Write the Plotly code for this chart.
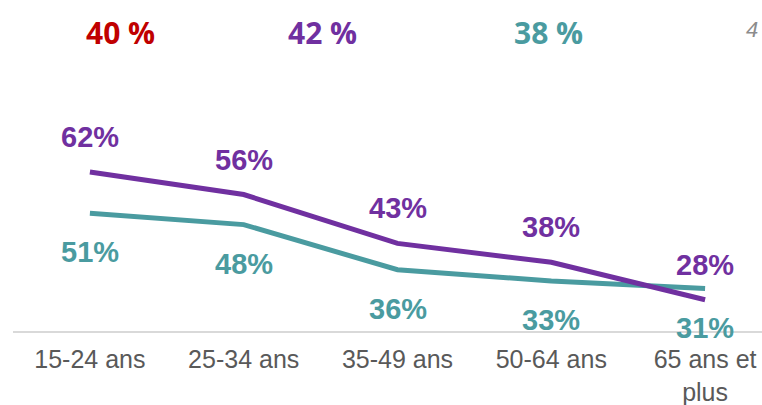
import plotly.graph_objects as go

# Age groups and the two series (share in %)
categories = ["15-24 ans", "25-34 ans", "35-49 ans", "50-64 ans", "65 ans et<br>plus"]
purple_values = [62, 56, 43, 38, 28]
teal_values = [51, 48, 36, 33, 31]

# Group headline figures shown across the top
headline_labels = ["40 %", "42 %", "38 %"]
page_number = "4"

PURPLE = "#7030A0"
TEAL = "#4A9BA0"
RED = "#C00000"

W, H = 762, 405
ML, MR, MT, MB = 13, 0, 60, 74


def px_to_paper_x(px):
    return (px - ML) / (W - ML - MR)


def px_to_paper_y(py):
    return (H - MB - py) / (H - MT - MB)


xs = list(range(len(categories)))

fig = go.Figure()
fig.add_trace(go.Scatter(x=xs, y=teal_values, mode="lines",
                         line=dict(color=TEAL, width=5), hoverinfo="skip"))
fig.add_trace(go.Scatter(x=xs, y=purple_values, mode="lines",
                         line=dict(color=PURPLE, width=5), hoverinfo="skip"))

annotations = []
label_font = "Liberation Sans, Arial, sans-serif"
for i, v in enumerate(purple_values):
    annotations.append(dict(x=i, y=v, xref="x", yref="y", text=f"{v}%",
                            showarrow=False, yshift=35,
                            font=dict(family=label_font, size=29, color=PURPLE,
                                      weight="bold")))
for i, v in enumerate(teal_values):
    annotations.append(dict(x=i, y=v, xref="x", yref="y", text=f"{v}%",
                            showarrow=False, yshift=-39,
                            font=dict(family=label_font, size=29, color=TEAL,
                                      weight="bold")))

headline_pos = [(120, RED), (322, PURPLE), (548, TEAL)]
for text, (px, col) in zip(headline_labels, headline_pos):
    annotations.append(dict(x=px_to_paper_x(px), y=px_to_paper_y(32),
                            xref="paper", yref="paper", text=text,
                            showarrow=False, xanchor="center", yanchor="middle",
                            font=dict(family="Open Sans, Lato, sans-serif", size=30,
                                      color=col, weight="bold")))

annotations.append(dict(x=px_to_paper_x(752), y=px_to_paper_y(30),
                        xref="paper", yref="paper", text=f"<i>{page_number}</i>",
                        showarrow=False, xanchor="center", yanchor="middle",
                        font=dict(family="Liberation Sans, Arial, sans-serif",
                                  size=22, color="#8C8C8C")))

fig.update_layout(
    width=W, height=H,
    margin=dict(l=ML, r=MR, t=MT, b=MB, autoexpand=False),
    paper_bgcolor="white", plot_bgcolor="white",
    showlegend=False,
    annotations=annotations,
    xaxis=dict(
        range=[-0.5, 4.37], automargin=False,
        tickmode="array", tickvals=xs, ticktext=categories,
        showgrid=False, zeroline=False,
        showline=True, linecolor="#D9D9D9", linewidth=2,
        ticks="outside", ticklen=5, tickcolor="rgba(0,0,0,0)",
        tickfont=dict(family="Liberation Sans, Arial, sans-serif", size=25,
                      color="#595959"),
    ),
    yaxis=dict(range=[19.7, 91.8], visible=False, showgrid=False, zeroline=False),
)

fig.write_html("out.html")
